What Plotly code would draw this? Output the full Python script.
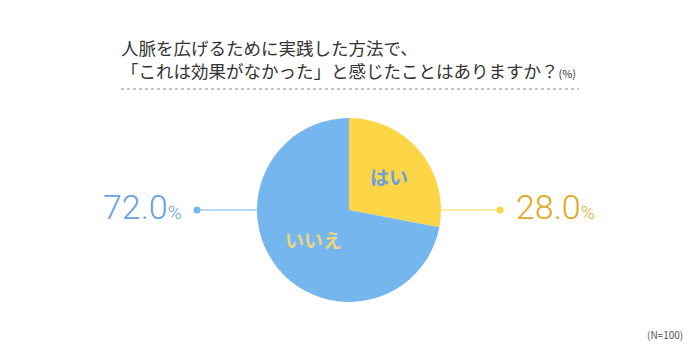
import plotly.graph_objects as go

labels = ["はい", "いいえ"]
values = [28.0, 72.0]
slice_colors = ["#FDD647", "#75B6EF"]
inner_text_colors = ["#6A9FDA", "#EAD67C"]
pct_text_colors = ["#DFA820", "#6A9FE0"]
title_lines = ["人脈を広げるために実践した方法で、", "「これは効果がなかった」と感じたことはありますか？"]
unit = "(%)"
note = "(N=100)"

# page body has an 8px default margin; size figure to fit the 700x360 window
OFF = 8
W, H = 700 - 2 * OFF, 360 - 2 * OFF
cx, cy, r = 349, 210, 92

def px(x):
    return (x - OFF) / W

def py(y):
    return 1 - (y - OFF) / H

fig = go.Figure()
fig.add_trace(go.Pie(
    labels=labels, values=values, sort=False, direction="clockwise", rotation=0,
    marker=dict(colors=slice_colors, line=dict(width=0)),
    textinfo="label", textposition="inside", insidetextorientation="horizontal",
    textfont=dict(family="Noto Sans CJK JP", size=19, color=inner_text_colors, weight="bold"),
    domain=dict(x=[px(cx - r), px(cx + r)], y=[py(cy + r), py(cy - r)]),
    showlegend=False, hoverinfo="label+percent",
))

jp = "Noto Sans CJK JP"
num_font = dict(family="Roboto", size=34, weight=300)
annotations = [
    dict(x=px(119), y=py(59),
         text=title_lines[0] + "<br>" + title_lines[1] + f"<span style='font-size:11px'>{unit}</span>",
         xanchor="left", yanchor="middle", align="left",
         font=dict(family=jp, size=17.5, color="#333333")),
    dict(x=px(184), y=py(207), text=f"{values[1]:.1f}<span style='font-size:19px'>%</span>",
         xanchor="right", yanchor="middle",
         font=dict(color=pct_text_colors[1], **num_font)),
    dict(x=px(514), y=py(207), text=f"{values[0]:.1f}<span style='font-size:19px'>%</span>",
         xanchor="left", yanchor="middle",
         font=dict(color=pct_text_colors[0], **num_font)),
    dict(x=px(665), y=py(334), text=note, xanchor="center", yanchor="middle",
         font=dict(family=jp, size=10, color="#555555")),
]
for a in annotations:
    a.update(xref="paper", yref="paper", showarrow=False)

shapes = [
    dict(type="line", x0=px(121), x1=px(579), y0=py(89), y1=py(89),
         line=dict(color="#8a8a8a", width=1, dash="dot")),
    dict(type="line", x0=px(197), x1=px(cx - r), y0=py(cy), y1=py(cy),
         line=dict(color=slice_colors[1], width=1.2)),
    dict(type="line", x0=px(cx + r), x1=px(500), y0=py(cy), y1=py(cy),
         line=dict(color=slice_colors[0], width=1.2)),
    dict(type="circle", x0=px(193.5), x1=px(200.5), y0=py(213.5), y1=py(206.5),
         fillcolor=slice_colors[1], line=dict(width=0)),
    dict(type="circle", x0=px(496.5), x1=px(503.5), y0=py(213.5), y1=py(206.5),
         fillcolor=slice_colors[0], line=dict(width=0)),
]
for s in shapes:
    s.update(xref="paper", yref="paper", layer="below")

fig.update_layout(
    width=W, height=H, margin=dict(l=0, r=0, t=0, b=0),
    paper_bgcolor="white", plot_bgcolor="white",
    annotations=annotations, shapes=shapes,
)
fig.write_html("out.html")
